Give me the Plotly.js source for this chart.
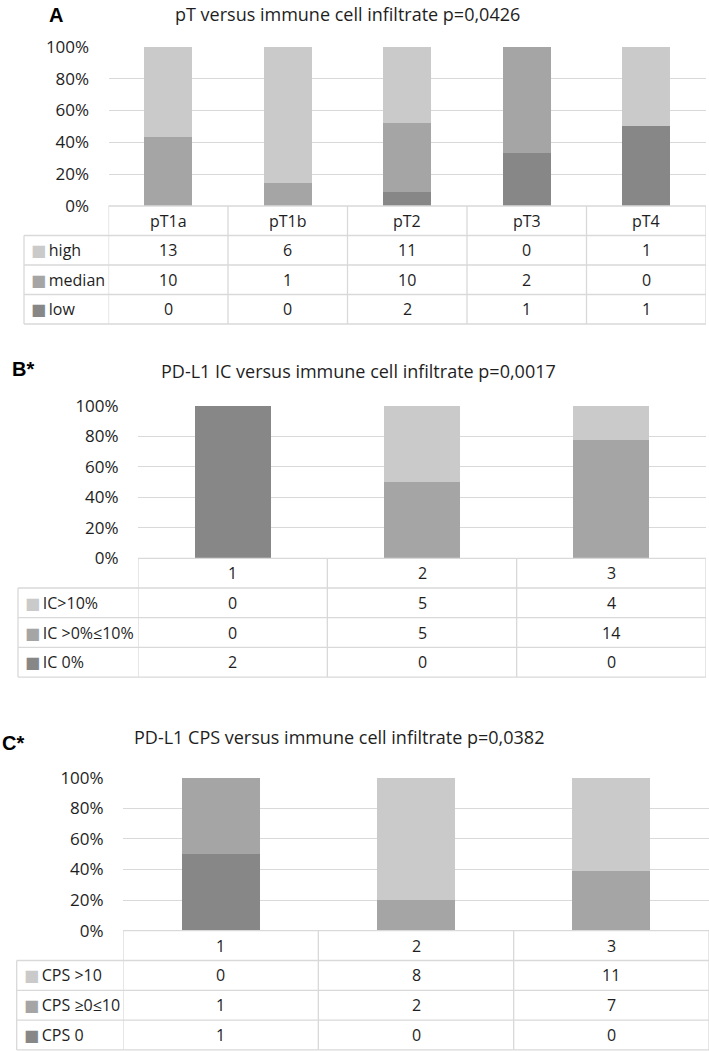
<!DOCTYPE html>
<html>
<head>
<meta charset="utf-8">
<script src="https://cdn.plot.ly/plotly-3.0.1.min.js"></script>
<style>
  html, body { margin: 0; padding: 0; background: #fff; }
  #chart { width: 709px; height: 1051px; }
</style>
</head>
<body>
<div id="chart"></div>
<script>
(function () {
  "use strict";

  // panel A: pT stage
  var ptCategories = ["pT1a", "pT1b", "pT2", "pT3", "pT4"];
  var ptSeries = ["high", "median", "low"];
  var ptHigh = [13, 6, 11, 0, 1];
  var ptMedian = [10, 1, 10, 2, 0];
  var ptLow = [0, 0, 2, 1, 1];

  // panel B: PD-L1 IC
  var icCategories = ["1", "2", "3"];
  var icSeries = ["IC>10%", "IC >0%≤10%", "IC 0%"];
  var icHigh = [0, 5, 4];
  var icMid = [0, 5, 14];
  var icZero = [2, 0, 0];

  // panel C: PD-L1 CPS
  var cpsCategories = ["1", "2", "3"];
  var cpsSeries = ["CPS >10", "CPS ≥0≤10", "CPS 0"];
  var cpsHigh = [0, 8, 11];
  var cpsMid = [1, 2, 7];
  var cpsZero = [1, 0, 0];

  var yTicks = [0, 20, 40, 60, 80, 100];
  var yTickText = ["0%", "20%", "40%", "60%", "80%", "100%"];

  var W = 709, H = 1051;
  var colors = ["#cacaca", "#a5a5a5", "#878787"];
  var lineCol = "#d9d9d9";
  var textCol = "#1e1e1e";
  var font = "'Open Sans', 'DejaVu Sans', sans-serif";

  function fx(p) { return p / W; }
  function fy(p) { return 1 - p / H; }

  // pixel frame of each panel (plot box, table, titles)
  var panels = [
    { tag: "A", tagX: 56, tagY: 15, tagAnchor: "center",
      title: "pT versus immune cell infiltrate p=0,0426", titleX: 347, titleY: 14,
      cats: ptCategories, names: ptSeries, rows: [ptHigh, ptMedian, ptLow],
      left: 108.5, right: 706, top: 46.7, base: 206, rowH: 29.5, tableLeft: 24 },
    { tag: "B*", tagX: 10, tagY: 369, tagAnchor: "left",
      title: "PD-L1 IC versus immune cell infiltrate p=0,0017", titleX: 358, titleY: 371,
      cats: icCategories, names: icSeries, rows: [icHigh, icMid, icZero],
      left: 138, right: 706, top: 405.7, base: 558.3, rowH: 29.7, tableLeft: 18 },
    { tag: "C*", tagX: 0, tagY: 743, tagAnchor: "left",
      title: "PD-L1 CPS versus immune cell infiltrate p=0,0382", titleX: 339, titleY: 737,
      cats: cpsCategories, names: cpsSeries, rows: [cpsHigh, cpsMid, cpsZero],
      left: 123, right: 709, top: 777.7, base: 930.7, rowH: 29.8, tableLeft: 16.7 }
  ];

  var data = [];
  var annotations = [];
  var shapes = [];
  var layout = {
    width: W,
    height: H,
    margin: { t: 0, r: 0, b: 0, l: 0 },
    paper_bgcolor: "#fff",
    plot_bgcolor: "rgba(0,0,0,0)",
    showlegend: false,
    barmode: "stack",
    barnorm: "percent",
    bargap: 0.6,
    font: { family: font, size: 16, color: textCol }
  };

  panels.forEach(function (p, k) {
    var sfx = k === 0 ? "" : String(k + 1);
    var xa = "x" + sfx, ya = "y" + sfx;

    // bars stacked from the bottom row of the table upward
    for (var s = p.rows.length - 1; s >= 0; s--) {
      data.push({
        type: "bar",
        x: p.cats,
        y: p.rows[s],
        name: p.names[s],
        xaxis: xa,
        yaxis: ya,
        marker: { color: colors[s], line: { width: 0 } },
        hoverinfo: "x+y+name"
      });
    }

    layout["xaxis" + sfx] = {
      domain: [fx(p.left), fx(p.right)],
      anchor: ya,
      type: "category",
      categoryarray: p.cats,
      range: [-0.5, p.cats.length - 0.5],
      showticklabels: false,
      showgrid: false,
      zeroline: false,
      showline: false,
      fixedrange: true
    };
    layout["yaxis" + sfx] = {
      domain: [fy(p.base), fy(p.top)],
      anchor: xa,
      range: [0, 100],
      tickvals: yTicks,
      ticktext: yTickText,
      ticks: "outside",
      ticklen: 15,
      tickcolor: "rgba(0,0,0,0)",
      tickfont: { family: font, size: 17, color: textCol },
      gridcolor: lineCol,
      gridwidth: 1,
      zeroline: false,
      showline: false,
      fixedrange: true
    };

    // tag letter and title
    annotations.push({
      xref: "paper", yref: "paper", x: fx(p.tagX), y: fy(p.tagY),
      xanchor: p.tagAnchor, yanchor: "middle", showarrow: false,
      text: "<b>" + p.tag + "</b>",
      font: { family: "'Liberation Sans', Arial, sans-serif", size: 20, color: "#000" }
    });
    annotations.push({
      xref: "paper", yref: "paper", x: fx(p.titleX), y: fy(p.titleY),
      xanchor: "center", yanchor: "middle", showarrow: false,
      text: p.title,
      font: { family: font, size: 18, color: textCol }
    });

    // data table: header row of categories, then one row per series
    // (x given as the category index so "1","2","3" are not read as numbers)
    var nRows = p.rows.length + 1;
    var bottom = p.base + p.rowH * nRows;
    p.cats.forEach(function (c, i) {
      annotations.push({
        xref: xa, yref: "paper", x: i, y: fy(p.base + p.rowH / 2),
        xanchor: "center", yanchor: "middle", showarrow: false, text: c
      });
      p.rows.forEach(function (row, r) {
        annotations.push({
          xref: xa, yref: "paper", x: i, y: fy(p.base + p.rowH * (r + 1.5)),
          xanchor: "center", yanchor: "middle", showarrow: false, text: String(row[i])
        });
      });
    });
    p.rows.forEach(function (row, r) {
      annotations.push({
        xref: "paper", yref: "paper", x: fx(p.tableLeft + 5), y: fy(p.base + p.rowH * (r + 1.5)),
        xanchor: "left", yanchor: "middle", showarrow: false,
        text: "<span style=\"color:" + colors[r] + "\">■</span>\u2009" + p.names[r]
      });
    });

    var ln = { color: lineCol, width: 1.3 };
    shapes.push({ type: "line", xref: "paper", yref: "paper",
      x0: fx(p.left), x1: fx(p.right), y0: fy(p.base), y1: fy(p.base), line: ln });
    for (var r = 1; r <= nRows; r++) {
      shapes.push({ type: "line", xref: "paper", yref: "paper",
        x0: fx(p.tableLeft), x1: fx(p.right), y0: fy(p.base + p.rowH * r), y1: fy(p.base + p.rowH * r), line: ln });
    }
    for (var i = 0; i <= p.cats.length; i++) {
      shapes.push({ type: "line", xref: xa, yref: "paper",
        x0: i - 0.5, x1: i - 0.5, y0: fy(p.base), y1: fy(bottom), line: ln });
    }
    shapes.push({ type: "line", xref: "paper", yref: "paper",
      x0: fx(p.tableLeft), x1: fx(p.tableLeft), y0: fy(p.base + p.rowH), y1: fy(bottom), line: ln });
  });

  layout.annotations = annotations;
  layout.shapes = shapes;

  Plotly.newPlot("chart", data, layout, { displayModeBar: false, staticPlot: true });
}());
</script>
</body>
</html>
